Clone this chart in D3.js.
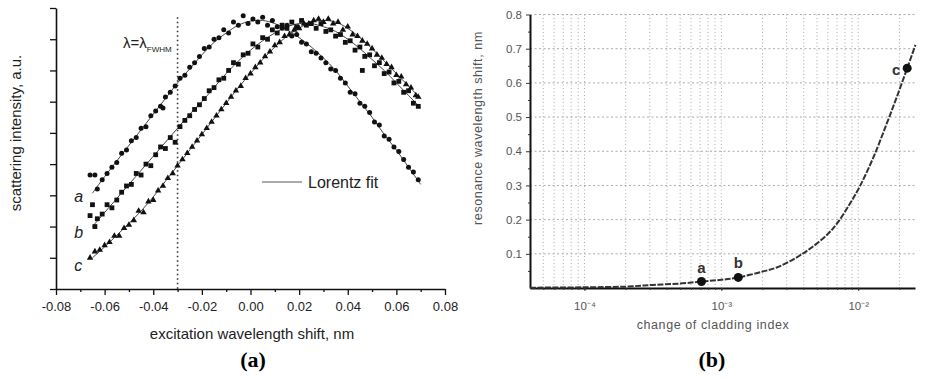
<!DOCTYPE html>
<html><head><meta charset="utf-8">
<script src="https://d3js.org/d3.v7.min.js"></script>
<style>
body{margin:0;background:#fff;}
svg text{font-family:"Liberation Sans",Arial,sans-serif;}
</style>
</head>
<body>
<script>
// ---- panel (a): scattering spectra, three particle sizes ----
xTicksA=[-0.08,-0.06,-0.04,-0.02,0.00,0.02,0.04,0.06,0.08];
xMinorA=[-0.07,-0.05,-0.03,-0.01,0.01,0.03,0.05,0.07];
yTicksA=[0,1,2,3,4,5,6,7,8,9];
fwhmX=-0.03;

// Lorentz fit lines
fitX=[-0.065,-0.06,-0.055,-0.05,-0.045,-0.04,-0.035,-0.03,-0.025,-0.02,-0.015,-0.01,-0.005,0,0.005,0.01,0.015,0.02,0.025,0.03,0.035,0.04,0.045,0.05,0.055,0.06,0.065,0.07];
fitA=[3.07,3.6,4.1,4.6,5.1,5.6,6.1,6.6,7.05,7.5,7.9,8.2,8.45,8.58,8.6,8.5,8.3,8.05,7.75,7.4,7.0,6.5,6.0,5.5,4.95,4.45,3.9,3.35];
fitB=[2.0,2.45,2.9,3.35,3.8,4.25,4.7,5.15,5.6,6.0,6.45,6.9,7.3,7.65,7.95,8.2,8.4,8.5,8.5,8.4,8.25,8.0,7.7,7.35,7.0,6.6,6.2,5.8];
fitC=[1.0,1.35,1.72,2.1,2.5,2.95,3.45,3.95,4.45,4.95,5.45,5.95,6.45,6.9,7.35,7.75,8.1,8.35,8.55,8.6,8.55,8.35,8.05,7.7,7.3,6.9,6.5,6.1];

// measured points
ptsA=[[-0.066,3.65],[-0.064,3.65],[-0.063,3.2],[-0.061,3.5],[-0.059,3.7],[-0.057,3.9],[-0.055,4.05],[-0.053,4.35],[-0.051,4.45],[-0.049,4.75],[-0.047,4.85],[-0.045,5.15],[-0.043,5.2],[-0.041,5.55],[-0.039,5.7],[-0.037,5.85],[-0.036,5.8],[-0.035,6.15],[-0.033,6.3],[-0.031,6.5],[-0.029,6.75],[-0.027,6.85],[-0.025,7.1],[-0.023,7.25],[-0.021,7.45],[-0.019,7.7],[-0.017,7.75],[-0.015,8.0],[-0.013,8.05],[-0.011,8.3],[-0.009,8.2],[-0.007,8.55],[-0.005,8.45],[-0.003,8.75],[-0.001,8.5],[0.001,8.65],[0.003,8.55],[0.005,8.7],[0.007,8.45],[0.009,8.6],[0.011,8.4],[0.013,8.35],[0.015,8.45],[0.017,8.1],[0.019,8.15],[0.021,7.9],[0.023,7.85],[0.025,7.6],[0.027,7.55],[0.029,7.4],[0.031,7.25],[0.033,7.05],[0.035,7.0],[0.037,6.75],[0.039,6.6],[0.041,6.3],[0.043,6.25],[0.045,5.95],[0.047,5.85],[0.049,5.65],[0.051,5.35],[0.053,5.25],[0.055,4.9],[0.057,4.8],[0.059,4.55],[0.061,4.4],[0.063,4.15],[0.065,3.9],[0.067,3.75],[0.069,3.5]];
ptsB=[[-0.066,2.35],[-0.065,2.7],[-0.064,2.0],[-0.063,2.25],[-0.061,2.4],[-0.059,2.7],[-0.057,2.6],[-0.055,2.85],[-0.053,3.1],[-0.051,3.3],[-0.049,3.35],[-0.047,3.7],[-0.045,3.65],[-0.043,4.0],[-0.041,3.95],[-0.039,4.3],[-0.037,4.55],[-0.035,4.5],[-0.033,4.85],[-0.031,4.7],[-0.029,5.2],[-0.027,5.4],[-0.025,5.55],[-0.023,5.75],[-0.021,5.9],[-0.019,6.1],[-0.017,6.35],[-0.015,6.45],[-0.013,6.7],[-0.011,6.75],[-0.009,7.0],[-0.007,7.25],[-0.005,7.2],[-0.003,7.5],[-0.001,7.55],[0.001,7.85],[0.003,7.75],[0.005,8.05],[0.007,8.0],[0.009,8.3],[0.011,8.2],[0.013,8.45],[0.015,8.35],[0.017,8.55],[0.019,8.4],[0.021,8.6],[0.023,8.45],[0.025,8.5],[0.027,8.35],[0.029,8.5],[0.031,8.25],[0.033,8.3],[0.035,8.1],[0.037,8.15],[0.039,7.9],[0.041,7.95],[0.043,7.65],[0.045,7.75],[0.046,7.0],[0.047,7.45],[0.049,7.5],[0.051,7.15],[0.053,7.25],[0.055,6.9],[0.057,6.95],[0.059,6.6],[0.061,6.65],[0.063,6.3],[0.065,6.35],[0.067,5.95],[0.069,5.85]];
ptsC=[[-0.066,1.0],[-0.064,1.2],[-0.062,1.25],[-0.060,1.4],[-0.058,1.5],[-0.056,1.7],[-0.054,1.7],[-0.052,1.95],[-0.050,2.05],[-0.048,2.2],[-0.046,2.5],[-0.044,2.45],[-0.042,2.8],[-0.040,2.85],[-0.038,3.15],[-0.036,3.3],[-0.034,3.55],[-0.032,3.7],[-0.030,3.95],[-0.028,4.15],[-0.026,4.35],[-0.024,4.55],[-0.022,4.75],[-0.020,4.95],[-0.018,5.15],[-0.016,5.35],[-0.014,5.55],[-0.012,5.75],[-0.010,5.95],[-0.008,6.15],[-0.006,6.35],[-0.004,6.5],[-0.002,6.75],[0.000,6.9],[0.002,7.1],[0.004,7.25],[0.006,7.45],[0.008,7.6],[0.010,7.8],[0.012,7.9],[0.014,8.1],[0.016,8.15],[0.018,8.3],[0.020,8.35],[0.022,8.5],[0.024,8.5],[0.026,8.6],[0.028,8.65],[0.030,8.55],[0.032,8.65],[0.034,8.5],[0.036,8.55],[0.038,8.3],[0.040,8.4],[0.042,8.15],[0.044,8.1],[0.046,7.95],[0.048,7.85],[0.050,7.7],[0.052,7.5],[0.054,7.4],[0.056,7.2],[0.058,7.1],[0.060,6.85],[0.062,6.8],[0.064,6.55],[0.066,6.45],[0.068,6.2],[0.069,6.15]];
curveNames=["a","b","c"];
curveNameY=[2.95,1.8,0.75];

// ---- panel (b): resonance shift vs cladding index ----
yTicksB=[0.1,0.2,0.3,0.4,0.5,0.6,0.7,0.8];
xTicksB=[1e-4,1e-3,1e-2];
xTickLabelsB=["10\u207B\u2074","10\u207B\u00B3","10\u207B\u00B2"];
shiftX=[4e-5,1e-4,2e-4,3.16e-4,5e-4,7.16e-4,1e-3,1.33e-3,2e-3,2.54e-3,3.5e-3,4.45e-3,6e-3,6.98e-3,8.5e-3,1.03e-2,1.3e-2,1.62e-2,1.92e-2,2.28e-2,2.62e-2];
shiftY=[0.001,0.002,0.004,0.009,0.013,0.019,0.024,0.031,0.048,0.06,0.088,0.115,0.158,0.188,0.24,0.298,0.385,0.482,0.56,0.643,0.711];
markX=[7.16e-4,1.33e-3,2.28e-2];
markY=[0.019,0.031,0.643];
markNames=["a","b","c"];

svg=d3.select("body").append("svg")
.attr("width",930)
.attr("height",379);

// ======== panel a ========
xA=d3.scaleLinear().domain([-0.08,0.08]).range([56,445]);
yA=d3.scaleLinear().domain([0,9]).range([289,8]);

ga=svg.append("g");

ga.append("line")
.attr("x1",xA(fwhmX)).attr("x2",xA(fwhmX))
.attr("y1",yA(8.7)).attr("y2",yA(0))
.attr("stroke","#333").attr("stroke-width",1.6)
.attr("stroke-dasharray","1.5,3");

line=d3.line().x(function(d){return xA(d[0]);}).y(function(d){return yA(d[1]);}).curve(d3.curveCatmullRom);
fits=[fitA,fitB,fitC];
fits.forEach(function(f){
  ga.append("path")
  .attr("d",line(fitX.map(function(x,i){return [x,f[i]];})))
  .attr("fill","none").attr("stroke","#444").attr("stroke-width",1);
});

ga.selectAll("circle.pa").data(ptsA).enter().append("circle")
.attr("cx",function(d){return xA(d[0]);})
.attr("cy",function(d){return yA(d[1]);})
.attr("r",2.5).attr("fill","#111");

ga.selectAll("rect.pb").data(ptsB).enter().append("rect")
.attr("x",function(d){return xA(d[0])-2.4;})
.attr("y",function(d){return yA(d[1])-2.4;})
.attr("width",4.8).attr("height",4.8).attr("fill","#111");

tri=d3.symbol().type(d3.symbolTriangle).size(18);
ga.selectAll("path.pc").data(ptsC).enter().append("path")
.attr("d",tri)
.attr("transform",function(d){return "translate("+xA(d[0])+","+yA(d[1])+")";})
.attr("fill","#111");

axA=ga.append("g").attr("transform","translate(0,289)")
.call(d3.axisBottom(xA).tickValues(xTicksA).tickSize(6).tickSizeOuter(0)
  .tickFormat(function(d){return d.toFixed(2);}));
ga.append("g").attr("transform","translate(0,289)")
.call(d3.axisBottom(xA).tickValues(xMinorA).tickSize(3).tickSizeOuter(0).tickFormat(""))
.select(".domain").remove();
axA.selectAll("text").attr("font-size",13).attr("fill","#222").attr("dy","1.0em");
ayA=ga.append("g").attr("transform","translate(56,0)")
.call(d3.axisLeft(yA).tickValues(yTicksA).tickSize(6).tickSizeOuter(0).tickFormat(""));
ga.selectAll(".domain").attr("stroke","#111").attr("stroke-width",1.6);
ga.selectAll(".tick line").attr("stroke","#111").attr("stroke-width",1.3);

lam=ga.append("text").attr("x",123).attr("y",48).attr("font-size",15).attr("fill","#222");
lam.append("tspan").text("\u03BB=\u03BB");
lam.append("tspan").attr("font-size",8).attr("dy",4).text("FWHM");

ga.selectAll("text.cn").data(curveNames).enter().append("text")
.attr("x",xA(-0.0725)).attr("y",function(d,i){return yA(curveNameY[i])+5;})
.attr("font-size",16).attr("font-style","italic").attr("fill","#222")
.text(function(d){return d;});

ga.append("line").attr("x1",262).attr("x2",302).attr("y1",182).attr("y2",182)
.attr("stroke","#555").attr("stroke-width",1);
ga.append("text").attr("x",308).attr("y",188).attr("font-size",16).attr("fill","#222").text("Lorentz fit");

ga.append("text").attr("x",252).attr("y",339).attr("text-anchor","middle")
.attr("font-size",15).attr("fill","#222").text("excitation wavelength shift, nm");
ga.append("text").attr("transform","translate(16,133) rotate(-90)").attr("text-anchor","middle")
.attr("dy","0.35em").attr("font-size",15).attr("fill","#222").text("scattering intensity, a.u.");
ga.append("text").attr("x",253).attr("y",367).attr("text-anchor","middle")
.attr("font-size",22).attr("font-weight","bold")
.style("font-family","'Liberation Serif',serif").text("(a)");

// ======== panel b ========
xB=d3.scaleLog().domain([4e-5,0.026]).range([530,915]);
yB=d3.scaleLinear().domain([0,0.8]).range([288,14.5]);

gb=svg.append("g");

gb.selectAll("line.vg").data(xB.ticks().filter(function(d){return d>4.5e-5;})).enter().append("line")
.attr("x1",function(d){return xB(d);}).attr("x2",function(d){return xB(d);})
.attr("y1",yB(0.8)).attr("y2",yB(0))
.attr("stroke","#aaa").attr("stroke-width",1).attr("stroke-dasharray","1,2.5");
gb.selectAll("line.hg").data(yTicksB).enter().append("line")
.attr("x1",530).attr("x2",915)
.attr("y1",function(d){return yB(d);}).attr("y2",function(d){return yB(d);})
.attr("stroke","#aaa").attr("stroke-width",1).attr("stroke-dasharray","2,2.5");

ayB=gb.append("g").attr("transform","translate(530,0)")
.call(d3.axisLeft(yB).tickValues(yTicksB).tickSize(4).tickSizeOuter(0)
  .tickFormat(function(d){return d.toFixed(1);}));
ayB.selectAll("text").attr("font-size",11.5).attr("fill","#555").attr("x",-8);
gb.append("g").attr("transform","translate(530,0)")
.call(d3.axisLeft(yB).tickValues(d3.range(0.05,0.8,0.1)).tickSize(2).tickSizeOuter(0).tickFormat(""))
.select(".domain").remove();
axB=gb.append("g").attr("transform","translate(0,288)")
.call(d3.axisBottom(xB).tickValues(xTicksB).tickSize(3).tickSizeOuter(0)
  .tickFormat(function(d,i){return xTickLabelsB[i];}));
axB.selectAll("text").attr("font-size",11.5).attr("fill","#555").attr("dy","1.4em");
gb.append("g").attr("transform","translate(0,288)")
.call(d3.axisBottom(xB).tickValues(xB.ticks().filter(function(d){return d>4.5e-5;})).tickSize(2).tickSizeOuter(0).tickFormat(""))
.select(".domain").remove();
gb.selectAll(".domain").attr("stroke","#111").attr("stroke-width",2);
gb.selectAll(".tick line").attr("stroke","#333");

lineB=d3.line().x(function(d){return xB(d[0]);}).y(function(d){return yB(d[1]);}).curve(d3.curveCatmullRom);
gb.append("path")
.attr("d",lineB(shiftX.map(function(x,i){return [x,shiftY[i]];})))
.attr("fill","none").attr("stroke","#333").attr("stroke-width",2).attr("stroke-dasharray","6,1.5");

gb.selectAll("circle.mk").data(markX).enter().append("circle")
.attr("cx",function(d){return xB(d);})
.attr("cy",function(d,i){return yB(markY[i]);})
.attr("r",4.5).attr("fill","#111");
gb.selectAll("text.mk").data(markNames).enter().append("text")
.attr("x",function(d,i){return i<2?xB(markX[i]):xB(markX[i])-11;})
.attr("y",function(d,i){return i<2?yB(markY[i])-9:yB(markY[i])+7;})
.attr("text-anchor","middle").attr("font-size",15).attr("font-weight","bold").attr("fill","#333")
.text(function(d){return d;});

gb.append("text").attr("x",713).attr("y",329).attr("text-anchor","middle")
.attr("font-size",12.5).attr("letter-spacing",0.6).attr("fill","#555").text("change of cladding index");
gb.append("text").attr("transform","translate(478,128) rotate(-90)").attr("text-anchor","middle")
.attr("dy","0.35em").attr("font-size",12.5).attr("letter-spacing",0.6).attr("fill","#555").text("resonance wavelength shift, nm");
gb.append("text").attr("x",712).attr("y",367).attr("text-anchor","middle")
.attr("font-size",22).attr("font-weight","bold")
.style("font-family","'Liberation Serif',serif").text("(b)");
</script>
</body></html>
